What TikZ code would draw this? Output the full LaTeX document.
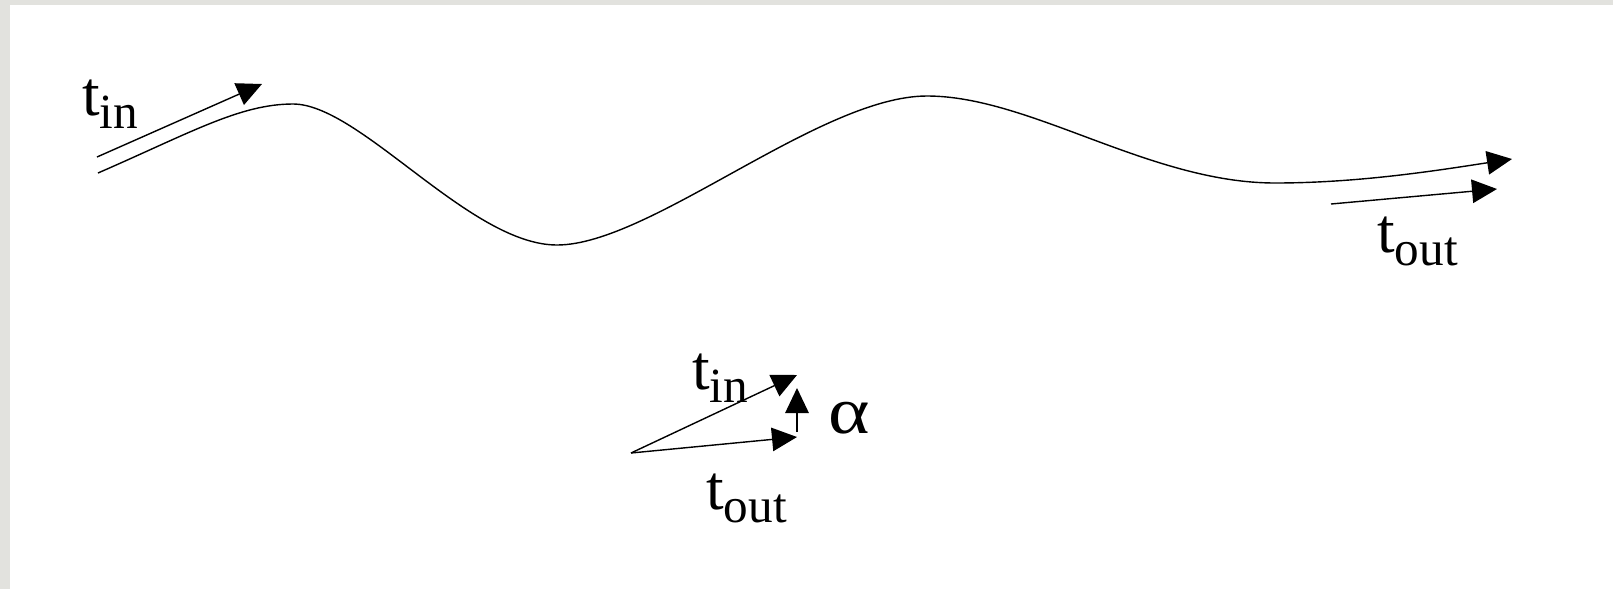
\documentclass[tikz,border=0pt]{standalone}
\usepackage{fontspec}
\setmainfont{Liberation Serif}
\usepackage{tikz}
\usetikzlibrary{arrows.meta, positioning}
\definecolor{frame-gray}{HTML}{E2E2DE}

\newcommand{\tlab}[1]{t\raisebox{-7.4pt}{\fontsize{28}{30}\selectfont #1}}

\tikzset{
  vec/.style={line width=0.8pt, -{Triangle[length=0.5cm, width=0.47cm]}},
  lbl/.style={font=\fontsize{36}{40}\selectfont, inner sep=0pt, anchor=base west}
}

\begin{document}
\begin{tikzpicture}[x=0.02cm, y=-0.02cm]
  \useasboundingbox (0,0) rectangle (1613,589);
  \fill[frame-gray] (0,0) rectangle (1613,589);
  \fill[white] (10,5) rectangle (1613,589);

  % the curve
  \coordinate (start) at (98,173);
  \coordinate (peakA) at (293,104);
  \coordinate (lowA) at (557,245);
  \coordinate (peakB) at (927,96);
  \coordinate (lowB) at (1275,183);
  \coordinate (finish) at (1512,159);
  \draw[vec] (start) .. controls (190,133) and (240,104) .. (peakA)
    .. controls (360,104) and (470,245) .. (lowA)
    .. controls (650,245) and (820,96) .. (peakB)
    .. controls (1030,96) and (1150,183) .. (lowB)
    .. controls (1360,183) and (1440,170) .. (finish);

  % tangents at both ends
  \coordinate (inA) at (97,157);
  \coordinate (inB) at (262,84);
  \draw[vec] (inA) -- (inB);
  \node[lbl] (tin) at (82,115) {\tlab{in}};

  \coordinate (outA) at (1331,204);
  \coordinate (outB) at (1497,189);
  \draw[vec] (outA) -- (outB);
  \node[lbl] (tout) at (1377,252) {\tlab{out}};

  % angle between them
  \coordinate (orig) at (631,453);
  \coordinate (inTip) at (797,375);
  \coordinate (outTip) at (797,437);
  \coordinate (alphaA) at (797,432);
  \coordinate (alphaB) at (797,388);
  \draw[vec] (orig) -- (inTip);
  \draw[vec] (orig) -- (outTip);
  \draw[vec] (alphaA) -- (alphaB);
  \node[lbl] (tin2) at (692,389) {\tlab{in}};
  \node[lbl] (tout2) at (706,509) {\tlab{out}};
  \node[lbl] (alpha) at (828,433) {\scalebox{1.25}[1.05]{α}};
\end{tikzpicture}
\end{document}
